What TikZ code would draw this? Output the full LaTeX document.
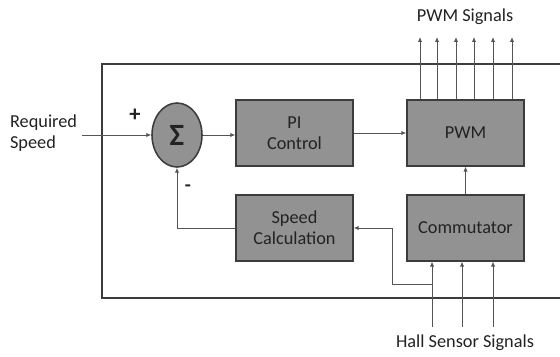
\documentclass[tikz,border=0pt]{standalone}
\usepackage{fontspec}
\setmainfont{Carlito}
\usetikzlibrary{arrows.meta,shapes.geometric}
\definecolor{ink}{HTML}{222222}
\definecolor{wire}{HTML}{555555}
\definecolor{boxfill}{HTML}{929292}
\definecolor{boxline}{HTML}{3C3C3C}

\begin{document}
\begin{tikzpicture}[x=.025cm,y=-.025cm,>={Latex[length=3.5pt,width=3pt]},every node/.style={font=\fontsize{13}{15}\selectfont,text=ink},block/.style={draw=boxline,fill=boxfill,line width=1.1pt,minimum width=2.92cm,minimum height=1.64cm,align=center,inner sep=2pt},sig/.style={->,wire,line width=.6pt},frame/.style={boxline,line width=1.4pt}]
\path[use as bounding box] (0,0) rectangle (560,356);

\draw[frame] (560,64)--(102,64)--(102,298)--(560,298);

\node[ellipse,draw=boxline,fill=boxfill,line width=1.1pt,minimum width=1.25cm,minimum height=1.6cm,inner sep=0pt,font=\fontsize{22}{22}\selectfont\bfseries] (sum) at (177,135) {Σ};
\node[block] (pi) at (294.5,133) {PI\\Control};
\node[block] (pwm) at (465.5,133) {PWM};
\node[block] (calc) at (294.5,228) {Speed\\Calculation};
\node[block] (comm) at (465.5,228) {Commutator};

\node[align=left,anchor=east] (req) at (82,133) {Required\\Speed};
\node[font=\fontsize{16}{16}\selectfont\bfseries] (plus) at (135,115) {+};
\node[font=\fontsize{14}{14}\selectfont\bfseries] (minus) at (188,188) {-};
\node (pwmsig) at (465,17) {PWM Signals};
\node (hall) at (465,343) {Hall Sensor Signals};

\draw[sig] (req.east|-sum.west) -- (sum.west);
\draw[sig] (sum.east) -- (pi.west|-sum.east);
\draw[sig] (pi.east) -- (pwm.west);
\draw[sig] (comm.north) -- (pwm.south);
\draw[sig] (calc.west) -| (sum.south);

\foreach \x in {420,437,456,474,493,512}
  \draw[sig] (pwm.north-|\x,0) -- (\x,37);

\foreach \x in {432,462,493}
  \draw[sig] (\x,327) -- (comm.south-|\x,0);

\coordinate (tap) at (432,284);
\draw[sig] (tap) -| (392,228) -- (calc.east);

\end{tikzpicture}
\end{document}
